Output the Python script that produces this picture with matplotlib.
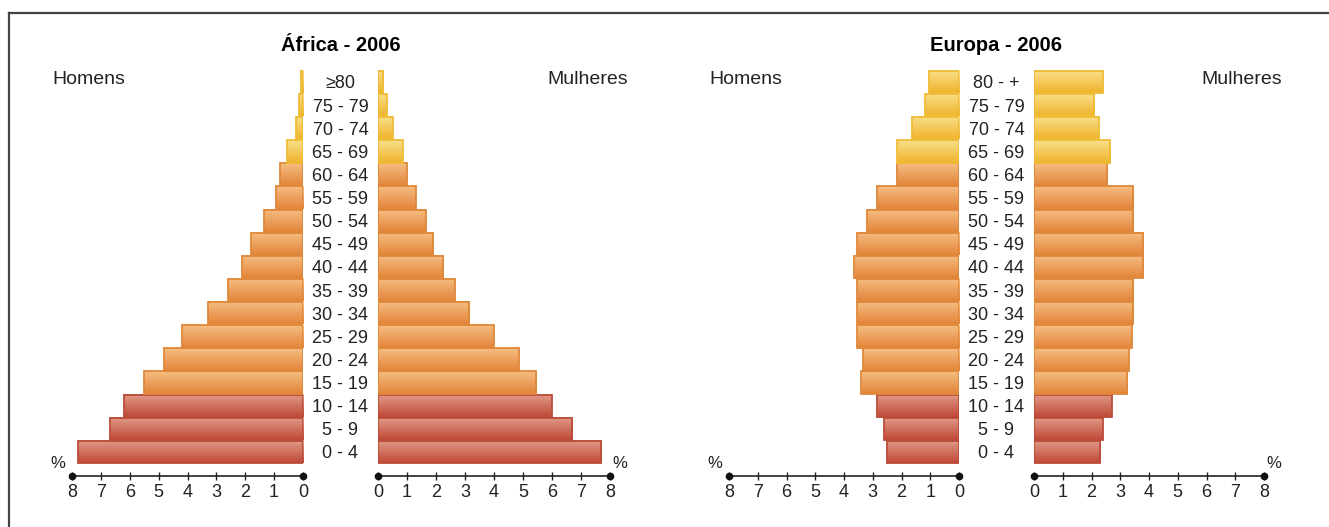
import numpy as np
import matplotlib
matplotlib.use("Agg")
import matplotlib.pyplot as plt
from matplotlib.lines import Line2D

plt.rcParams['font.family'] = ['Liberation Sans', 'DejaVu Sans']

# age groups, bottom to top
ages_africa = ["0 - 4", "5 - 9", "10 - 14", "15 - 19", "20 - 24", "25 - 29", "30 - 34",
               "35 - 39", "40 - 44", "45 - 49", "50 - 54", "55 - 59", "60 - 64",
               "65 - 69", "70 - 74", "75 - 79", "\u226580"]
ages_europa = ages_africa[:-1] + ["80 - +"]

# % of population
africa_homens = [7.8, 6.7, 6.2, 5.5, 4.8, 4.2, 3.3, 2.6, 2.1, 1.8, 1.35, 0.95, 0.78,
                 0.55, 0.24, 0.15, 0.08]
africa_mulheres = [7.7, 6.7, 6.0, 5.45, 4.85, 4.0, 3.15, 2.65, 2.25, 1.9, 1.65, 1.3, 1.0,
                   0.85, 0.5, 0.3, 0.18]
europa_homens = [2.5, 2.6, 2.85, 3.4, 3.35, 3.55, 3.55, 3.55, 3.65, 3.55, 3.2, 2.85, 2.15,
                 2.15, 1.65, 1.2, 1.05]
europa_mulheres = [2.3, 2.4, 2.7, 3.25, 3.3, 3.4, 3.45, 3.45, 3.8, 3.8, 3.45, 3.45, 2.55,
                   2.65, 2.25, 2.1, 2.4]

# colour groups: 0-14, 15-64, 65+
grupo = [0]*3 + [1]*10 + [2]*4
grad_top = ["#e09a88", "#f5bd82", "#fadf8a"]
grad_bot = ["#c04a38", "#e3853a", "#efb42c"]
edges = ["#bb4c39", "#e0883a", "#efbc38"]

W, H = 1329, 527
fig = plt.figure(figsize=(W/100, H/100), dpi=100)

row_top, row_step = 452, 23.125
ymin, ymax = -1.04, 16.5


def make_ax(x0, x1):
    top = row_top - ymax*row_step
    bot = row_top - ymin*row_step
    return fig.add_axes([x0/W, 1 - bot/H, (x1 - x0)/W, (bot - top)/H])


def gradient_img(c_top, c_bot, n=32):
    a = np.array(matplotlib.colors.to_rgb(c_top))
    b = np.array(matplotlib.colors.to_rgb(c_bot))
    t = np.linspace(0, 1, n)[:, None]
    img = a*(1 - t) + b*t
    return img[:, None, :]


def piramide(ax, vals, left_side):
    y = np.arange(len(vals))
    bars = ax.barh(y, vals, height=0.97, facecolor='none', zorder=3, linewidth=1.3)
    for b, g in zip(bars, grupo):
        b.set_edgecolor(edges[g])
        x, yy = b.get_x(), b.get_y()
        w, h = b.get_width(), b.get_height()
        ax.imshow(gradient_img(grad_top[g], grad_bot[g]), extent=[x, x + w, yy, yy + h],
                  aspect='auto', origin='upper', zorder=2, interpolation='bilinear')
    if left_side:
        ax.set_xlim(8, 0)
    else:
        ax.set_xlim(0, 8)
    ax.set_ylim(ymin, ymax)
    for s in ['top', 'left', 'right']:
        ax.spines[s].set_visible(False)
    ax.spines['bottom'].set_color('#222222')
    ax.spines['bottom'].set_linewidth(1.2)
    ax.set_yticks([])
    ax.set_xticks(range(9))
    ax.tick_params(axis='x', direction='inout', length=6, width=1, color='#222222',
                   labelsize=13, pad=2.5, labelcolor='#222222')
    ax.plot([0, 8], [ymin, ymin], 'o', color='#111111', ms=4.5, clip_on=False, zorder=5)
    ax.patch.set_alpha(0)


def fig_text(x, y, s, **kw):
    fig.text(x/W, 1 - y/H, s, **kw)


paineis = [
    ("\u00c1frica - 2006", 72, 303, 378, 610, africa_homens, africa_mulheres, ages_africa),
    ("Europa - 2006", 729, 959, 1034, 1264, europa_homens, europa_mulheres, ages_europa),
]

for titulo, l0, l1, r0, r1, homens, mulheres, ages in paineis:
    axl = make_ax(l0, l1)
    piramide(axl, homens, True)
    axr = make_ax(r0, r1)
    piramide(axr, mulheres, False)
    cx = (l1 + r0)/2
    fig_text(cx, 45, titulo, ha='center', va='center', fontsize=14.5, fontweight='bold')
    for i, a in enumerate(ages):
        fig_text(cx, row_top - i*row_step + 2, a, ha='center', va='center', fontsize=13,
                 color='#222222')
    fig_text(l0 - 20, 79, "Homens", ha='left', va='center', fontsize=14, color='#222222')
    fig_text(r1 + 18, 79, "Mulheres", ha='right', va='center', fontsize=14, color='#222222')
    fig_text(l0 - 14, 463, "%", ha='center', va='center', fontsize=12, color='#222222')
    fig_text(r1 + 10, 464, "%", ha='center', va='center', fontsize=12, color='#222222')

# frame
fig.add_artist(Line2D([9/W, 9/W], [0, 1 - 13/H], transform=fig.transFigure,
                      color='#444444', lw=1.6))
fig.add_artist(Line2D([9/W, 1], [1 - 13/H, 1 - 13/H], transform=fig.transFigure,
                      color='#444444', lw=1.6))

fig.savefig("out.png", dpi=100)
